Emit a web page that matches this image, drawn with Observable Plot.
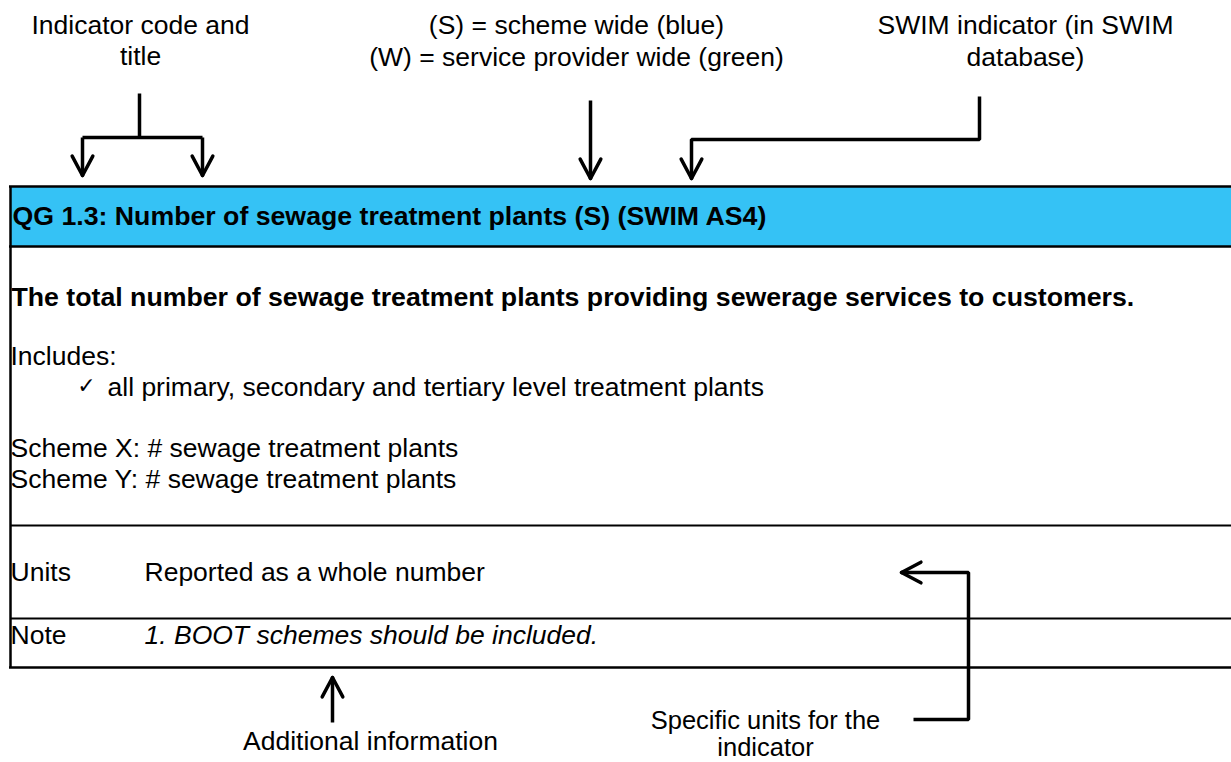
<!DOCTYPE html>
<html>
<head>
<meta charset="utf-8">
<script src="https://cdn.jsdelivr.net/npm/d3@7"></script>
<script src="https://cdn.jsdelivr.net/npm/@observablehq/plot@0.6"></script>
<style>
  html, body { margin: 0; padding: 0; background: #ffffff; }
  #chart svg { display: block; }
</style>
</head>
<body>
<div id="chart"></div>
<script>
// ---- Text content ----
const calloutTexts = [
  "Indicator code and", "title",
  "(S) = scheme wide (blue)", "(W) = service provider wide (green)",
  "SWIM indicator (in SWIM", "database)",
  "Additional information"
];
const unitsCalloutText = "Specific units for the\nindicator";
const headerText = "QG 1.3: Number of sewage treatment plants (S) (SWIM AS4)";
const definitionText = "The total number of sewage treatment plants providing sewerage services to customers.";
const bodyTexts = [
  "Includes:",
  "all primary, secondary and tertiary level treatment plants",
  "Scheme X: # sewage treatment plants",
  "Scheme Y: # sewage treatment plants"
];
const fieldLabels = ["Units", "Note"];
const fieldValues = ["Reported as a whole number", "1. BOOT schemes should be included."];
const checkGlyph = "\u2713";

// ---- Layout (diagram geometry in pixels) ----
const W = 1231, H = 762;
const calloutPos = [[140, 25], [140, 56], [576, 25], [576, 57], [1025, 25], [1025, 57], [370, 741]];
const unitsCalloutPos = [765, 733];
const bodyPos = [[10, 356], [107, 387], [10, 448], [10, 479]];
const fieldRows = [572, 635];
const fieldLabelX = 10, fieldValueX = 144;
const boxLeft = 10, boxTop = 186, bandBottom = 246, boxBottom = 667;
const dividerYs = [525, 618];
const connectors = [
  {id: "stem", pts: [[139, 93], [139, 137]], head: false},
  {id: "bar", pts: [[82, 137], [202, 137]], head: false},
  {id: "left", pts: [[82, 137], [82, 175]], head: true},
  {id: "right", pts: [[202, 137], [202, 175]], head: true},
  {id: "scheme", pts: [[590, 100], [590, 178]], head: true},
  {id: "swim", pts: [[979, 96], [979, 139], [691, 139], [691, 178]], head: true},
  {id: "units", pts: [[913, 719], [968, 719], [968, 572], [901, 572]], head: true},
  {id: "note", pts: [[332, 722], [332, 677]], head: true}
];

// ---- Derived tables ----
const callouts = calloutTexts.map((t, i) => ({text: t, x: calloutPos[i][0], y: calloutPos[i][1]}));
const body = bodyTexts.map((t, i) => ({text: t, x: bodyPos[i][0], y: bodyPos[i][1]}));
const fields = fieldLabels.map((l, i) => ({label: l, value: fieldValues[i], y: fieldRows[i]}));
const linePts = connectors.flatMap(c => c.pts.map(([x, y]) => ({id: c.id, x, y})));
const wingLen = 22, wingAng = 28 * Math.PI / 180;
const wings = connectors.filter(c => c.head).flatMap(c => {
  const [p, q] = c.pts.slice(-2);
  const dx = q[0] - p[0], dy = q[1] - p[1], L = Math.hypot(dx, dy);
  const ux = dx / L, uy = dy / L;
  return [-1, 1].map(s => {
    const c0 = Math.cos(s * wingAng), s0 = Math.sin(s * wingAng);
    const rx = ux * c0 - uy * s0, ry = ux * s0 + uy * c0;
    return {x1: q[0], y1: q[1], x2: q[0] - wingLen * rx, y2: q[1] - wingLen * ry};
  });
});

const font = "Liberation Sans, Arial, Helvetica, sans-serif";
const fs = 26.5;

const chart = Plot.plot({
  width: W,
  height: H,
  margin: 0,
  style: {background: "#ffffff", fontFamily: font, color: "#000"},
  x: {domain: [0, W], range: [0, W], axis: null},
  y: {domain: [0, H], range: [0, H], axis: null},
  marks: [
    // blue header band
    Plot.rect([{}], {x1: boxLeft, x2: W, y1: boxTop, y2: bandBottom, fill: "#35C2F5"}),
    // box borders
    Plot.ruleY([boxTop, bandBottom, boxBottom], {x1: boxLeft - 1, x2: W, stroke: "#000", strokeWidth: 2.5}),
    Plot.ruleY(dividerYs, {x1: boxLeft, x2: W, stroke: "#000", strokeWidth: 2}),
    Plot.ruleX([boxLeft], {y1: boxTop, y2: boxBottom, stroke: "#000", strokeWidth: 2.5}),
    // connectors
    Plot.line(linePts, {x: "x", y: "y", z: "id", stroke: "#000", strokeWidth: 3.5, strokeLinejoin: "miter", strokeLinecap: "butt", curve: "linear"}),
    Plot.link(wings, {x1: "x1", y1: "y1", x2: "x2", y2: "y2", stroke: "#000", strokeWidth: 3.5, strokeLinecap: "round"}),
    // callout labels
    Plot.text(callouts, {x: "x", y: "y", text: "text", textAnchor: "middle", fontSize: fs, fill: "#000", fontFamily: font}),
    Plot.text([unitsCalloutText], {x: unitsCalloutPos[0], y: unitsCalloutPos[1], text: d => d, textAnchor: "middle", lineAnchor: "middle",
      lineHeight: 1.06, fontSize: 25.5, fill: "#000", fontFamily: font}),
    // header
    Plot.text([headerText], {x: 12, y: 216, text: d => d, textAnchor: "start", fontSize: 26.7, fontWeight: "bold", fill: "#000", fontFamily: font}),
    Plot.text([definitionText], {x: 11, y: 297, text: d => d, textAnchor: "start", fontSize: 26.7, fontWeight: "bold", fill: "#000", fontFamily: font}),
    // body
    Plot.text(body, {x: "x", y: "y", text: "text", textAnchor: "start", fontSize: fs, fill: "#000", fontFamily: font}),
    Plot.text([checkGlyph], {x: 86, y: 385, text: d => d, textAnchor: "middle", fontSize: 22, fill: "#000", fontFamily: "DejaVu Sans, sans-serif"}),
    // fields
    Plot.text(fields, {x: fieldLabelX, y: "y", text: "label", textAnchor: "start", fontSize: fs, fill: "#000", fontFamily: font}),
    Plot.text(fields.slice(0, 1), {x: fieldValueX, y: "y", text: "value", textAnchor: "start", fontSize: fs, fill: "#000", fontFamily: font}),
    Plot.text(fields.slice(1), {x: fieldValueX, y: "y", text: "value", textAnchor: "start", fontSize: fs, fill: "#000", fontFamily: font, fontStyle: "italic"})
  ]
});
document.getElementById("chart").append(chart);
</script>
</body>
</html>
